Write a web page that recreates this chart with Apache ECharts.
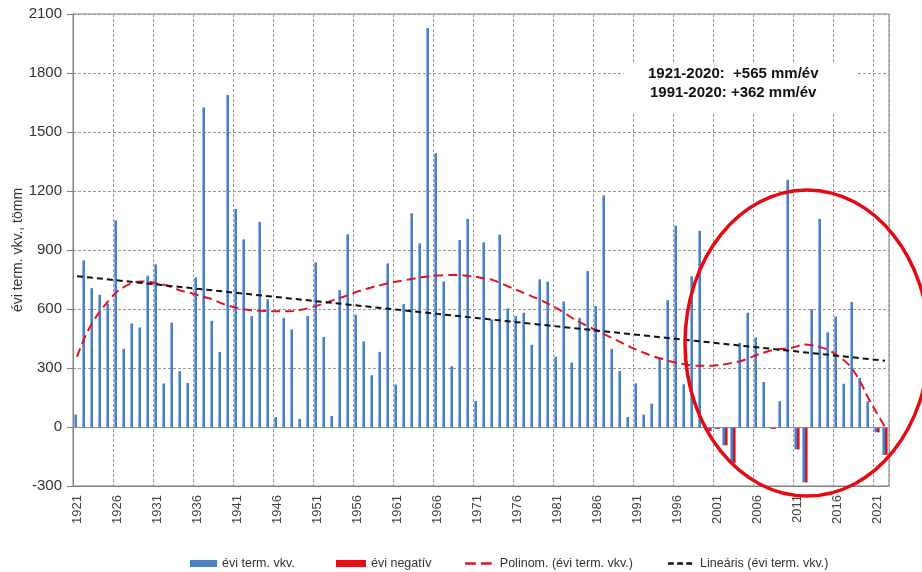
<!DOCTYPE html>
<html>
<head>
<meta charset="utf-8">
<script src="https://cdn.jsdelivr.net/npm/echarts@6/dist/echarts.min.js"></script>
<style>
html,body{margin:0;padding:0;background:#fff;}
#chart{width:922px;height:572px;}
</style>
</head>
<body>
<div id="chart"></div>
<script>
// Categories: years 1921..2022
var years = [];
for (var y = 1921; y <= 2022; y++) years.push(String(y));

// Annual values (évi term. vkv.), 1921..2022
var annualValues = [
  63, 847, 706, 672, 628, 1051, 397, 526, 506, 769,
  827, 221, 531, 284, 224, 761, 1625, 540, 382, 1688,
  1109, 954, 564, 1043, 649, 51, 555, 496, 41, 564,
  837, 458, 56, 696, 980, 571, 435, 263, 382, 832,
  216, 625, 1087, 934, 2029, 1392, 740, 309, 951, 1058,
  132, 939, 547, 978, 603, 564, 581, 418, 751, 739,
  357, 638, 328, 555, 793, 615, 1178, 397, 285, 51,
  222, 63, 119, 348, 645, 1024, 217, 766, 998, -20,
  -10, -93, -182, 428, 581, 455, 229, -10, 131, 1257,
  -114, -282, 599, 1058, 481, 562, 220, 635, 250, 131,
  -27, -142
];

// Negative years (évi negatív)
var negativeValues = [
  null,null,null,null,null,null,null,null,null,null,
  null,null,null,null,null,null,null,null,null,null,
  null,null,null,null,null,null,null,null,null,null,
  null,null,null,null,null,null,null,null,null,null,
  null,null,null,null,null,null,null,null,null,null,
  null,null,null,null,null,null,null,null,null,null,
  null,null,null,null,null,null,null,null,null,null,
  null,null,null,null,null,null,null,null,null,-20,
  -10,-93,-182,null,null,null,null,-10,null,null,
  -114,-282,null,null,null,null,null,null,null,null,
  -27,-142
];

// Polynomial trend
var polyValues = [
  357, 458, 535, 594, 645, 688, 715, 734, 740, 737,
  730, 722, 708, 693, 684, 672, 660, 648, 630, 616,
  605, 598, 593, 591, 589, 588, 588, 590, 596, 605,
  617, 630, 645, 658, 672, 688, 700, 712, 722, 732,
  740, 747, 754, 761, 766, 770, 772, 773, 772, 768,
  763, 755, 747, 731, 713, 696, 679, 662, 645, 625,
  603, 578, 552, 530, 509, 490, 470, 450, 430, 410,
  392, 375, 360, 348, 336, 326, 318, 313, 311, 311,
  314, 319, 327, 336, 350, 367, 380, 391, 397, 400,
  410, 420, 415, 405, 390, 365, 335, 290, 222, 140,
  70, 0
];

// Linear trend endpoints
var linearStart = ['1921', 767];
var linearEnd = ['2022', 337];

var yTicks = { min: -300, max: 2100, interval: 300 };

var chart = echarts.init(document.getElementById('chart'));
var font = 'Arial, "Liberation Sans", sans-serif';
var legendText = { fontSize: 12.5, color: '#333', fontFamily: font };

function legendAt(left, name, icon, w, h) {
  return {
    left: left, top: 552, itemWidth: w, itemHeight: h, itemGap: 0,
    textStyle: legendText, selectedMode: false,
    data: [{ name: name, icon: icon }]
  };
}

chart.setOption({
  animation: false,
  backgroundColor: '#fff',
  textStyle: { fontFamily: font },
  grid: { left: 73, right: 33, top: 14, bottom: 86, show: true, borderColor: '#808080', borderWidth: 1, outerBoundsMode: 'none', containLabel: false },
  legend: [
    legendAt(185, 'évi term. vkv.', 'rect', 27, 7),
    legendAt(331, 'évi negatív', 'rect', 30, 7),
    legendAt(460, 'Polinom. (évi term. vkv.)', 'path://M0,0h13v3h-13z M19,0h13v3h-13z', 33, 2.5),
    legendAt(663, 'Lineáris (évi term. vkv.)', 'path://M0,0h7v3h-7z M11,0h7v3h-7z M22,0h7v3h-7z', 30, 2.5)
  ],
  xAxis: {
    type: 'category',
    data: years,
    boundaryGap: true,
    axisLine: { onZero: false, lineStyle: { color: '#808080' } },
    axisTick: { show: false },
    axisLabel: { interval: 4, rotate: 90, fontSize: 13, color: '#444', margin: 9 },
    splitLine: { show: true, interval: 4, lineStyle: { color: '#999', type: [3, 2], width: 1 } }
  },
  yAxis: {
    type: 'value',
    min: yTicks.min, max: yTicks.max, interval: yTicks.interval,
    name: 'évi term. vkv., tömm',
    nameLocation: 'middle', nameGap: 48, nameRotate: 90, nameMoveOverlap: false,
    nameTextStyle: { fontSize: 14, color: '#333' },
    axisLine: { show: true, lineStyle: { color: '#808080' } },
    axisTick: { show: true, length: 6, lineStyle: { color: '#808080' } },
    axisLabel: { fontSize: 15, color: '#333', margin: 11, formatter: function (v) { return String(v); } },
    splitLine: { show: true, lineStyle: { color: '#999', type: [3, 2], width: 1 } }
  },
  series: [
    {
      name: 'évi term. vkv.', type: 'bar', data: annualValues,
      barWidth: 2.6, barGap: '0%',
      itemStyle: { color: '#4f7fbd' },
      markLine: {
        silent: true, symbol: 'none', label: { show: false },
        lineStyle: { color: '#8a8a8a', type: 'solid', width: 1.2 },
        data: [{ yAxis: 0 }]
      }
    },
    {
      name: 'évi negatív', type: 'bar', data: negativeValues,
      barWidth: 2.6,
      itemStyle: { color: '#e3101c' }
    },
    {
      name: 'Polinom. (évi term. vkv.)', type: 'line', data: polyValues,
      smooth: 0.4, symbol: 'none', z: 5,
      lineStyle: { color: '#e0141e', width: 2, type: [9, 5] },
      itemStyle: { color: '#e0141e' }
    },
    {
      name: 'Lineáris (évi term. vkv.)', type: 'line',
      data: [linearStart, linearEnd],
      symbol: 'none', z: 6,
      lineStyle: { color: '#111', width: 2, type: [6, 4] },
      itemStyle: { color: '#111' }
    }
  ],
  graphic: [
    {
      type: 'rect', z: 10,
      shape: { x: 624, y: 62, width: 234, height: 52 },
      style: { fill: '#fff' }
    },
    {
      type: 'text', z: 11, left: 648, top: 66,
      style: { text: '1921-2020:  +565 mm/év', font: 'bold 15px ' + font, fill: '#111' }
    },
    {
      type: 'text', z: 11, left: 650, top: 85,
      style: { text: '1991-2020: +362 mm/év', font: 'bold 15px ' + font, fill: '#111' }
    },
    {
      type: 'ellipse', z: 20,
      shape: { cx: 807, cy: 343, rx: 122, ry: 153 },
      style: { fill: 'none', stroke: '#e30a14', lineWidth: 3.5 }
    }
  ]
});
</script>
</body>
</html>
